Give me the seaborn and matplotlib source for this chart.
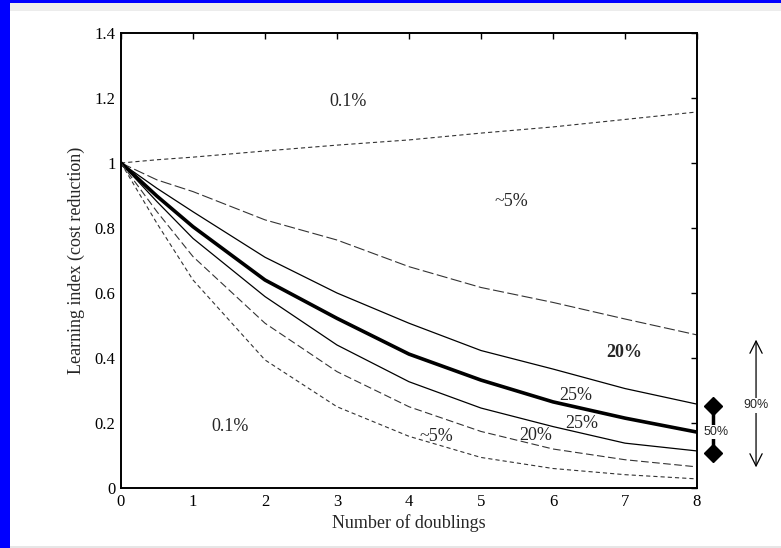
import numpy as np
import pandas as pd
import seaborn as sns
import matplotlib
matplotlib.use("agg")
import matplotlib.pyplot as plt
from matplotlib.patches import Rectangle

# data (learning index vs number of doublings)
doublings = [0, 0.5, 1, 2, 3, 4, 5, 6, 7, 8]
upper_01 = [1.0, 1.010, 1.018, 1.037, 1.055, 1.071, 1.092, 1.111, 1.134, 1.157]
upper_5 = [1.0, 0.948, 0.912, 0.825, 0.763, 0.681, 0.617, 0.571, 0.520, 0.471]
upper_25 = [1.0, 0.922, 0.850, 0.710, 0.600, 0.507, 0.423, 0.366, 0.306, 0.258]
median = [1.0, 0.898, 0.804, 0.640, 0.522, 0.412, 0.332, 0.265, 0.215, 0.172]
lower_25 = [1.0, 0.881, 0.768, 0.589, 0.440, 0.327, 0.246, 0.189, 0.138, 0.114]
lower_5 = [1.0, 0.850, 0.712, 0.507, 0.358, 0.250, 0.174, 0.120, 0.087, 0.065]
lower_01 = [1.0, 0.814, 0.640, 0.394, 0.250, 0.159, 0.094, 0.060, 0.041, 0.028]

labels = ["0.1%", "~5%", "20%", "25%", "25%", "20%", "~5%", "0.1%"]
label_x = [3.15, 5.42, 6.99, 6.32, 6.40, 5.76, 4.38, 1.51]
label_y = [1.19, 0.883, 0.418, 0.286, 0.197, 0.163, 0.157, 0.188]

band50 = [0.108, 0.252]
band90 = [0.055, 0.465]

sns.set_style("white")
plt.rcParams['font.family'] = ['Liberation Serif', 'DejaVu Serif']
plt.rcParams['font.size'] = 12
plt.rcParams['lines.scale_dashes'] = False

fig = plt.figure(figsize=(7.81, 5.48), dpi=100)
fig.patch.set_facecolor('white')
# frame of the original slide
fig.patches.append(Rectangle((0, 1 - 11 / 548), 1, 11 / 548, transform=fig.transFigure,
                             facecolor='#ececec', edgecolor='none', zorder=0))
fig.patches.append(Rectangle((0, 1 - 3 / 548), 1, 3 / 548, transform=fig.transFigure,
                             facecolor='#0000ff', edgecolor='none', zorder=1))
fig.patches.append(Rectangle((0, 0), 10 / 781, 1, transform=fig.transFigure,
                             facecolor='#0000ff', edgecolor='none', zorder=1))
fig.patches.append(Rectangle((10 / 781, 0), 1, 2 / 548, transform=fig.transFigure,
                             facecolor='#e6e6e6', edgecolor='none', zorder=0))

ax = fig.add_axes([121 / 781, 1 - 488 / 548, 576 / 781, 455 / 548])

curves = [
    (upper_01, '#333333', 0.8, [3, 2.2]),
    (upper_5, '#333333', 0.8, [8, 2.5]),
    (upper_25, 'black', 0.9, None),
    (median, 'black', 2.6, None),
    (lower_25, 'black', 0.9, None),
    (lower_5, '#333333', 0.8, [5.5, 2.5]),
    (lower_01, '#333333', 0.8, [3, 2.2]),
]
for vals, c, lw, dash in curves:
    sns.lineplot(x=doublings, y=vals, ax=ax, color=c, linewidth=lw)
    if dash is not None:
        ax.lines[-1].set_dashes(dash)

for t, x, y in zip(labels, label_x, label_y):
    w = 'bold' if (t == '20%' and y > 0.3) else 'normal'
    ax.text(x, y, t, ha='center', va='center', fontsize=13, fontweight=w)

# 50% and 90% range markers outside the plot
ax.plot([8.22, 8.22], band50, color='black', lw=2.5, marker='D', markersize=9.5,
        clip_on=False)
ax.text(8.27, 0.172, '50%', ha='center', va='center', fontsize=9,
        family=['Liberation Sans', 'DejaVu Sans'],
        bbox=dict(facecolor='white', edgecolor='none', pad=0.5))
ax.annotate('', xy=(8.82, band90[1]), xytext=(8.82, band90[0]),
            xycoords='data', annotation_clip=False,
            arrowprops=dict(arrowstyle='<->', color='black', lw=0.9,
                            mutation_scale=22))
ax.text(8.82, 0.255, '90%', ha='center', va='center', fontsize=9,
        family=['Liberation Sans', 'DejaVu Sans'],
        bbox=dict(facecolor='white', edgecolor='none', pad=1))

ax.set_xlim(0, 8)
ax.set_ylim(0, 1.4)
ax.set_xticks(range(0, 9))
ax.set_yticks([0, 0.2, 0.4, 0.6, 0.8, 1.0, 1.2, 1.4])
ax.set_yticklabels(['0', '0.2', '0.4', '0.6', '0.8', '1', '1.2', '1.4'])
ax.tick_params(direction='in', length=4, width=1, top=True, right=True,
               labelsize=12, pad=4, colors='black')
for s in ax.spines.values():
    s.set_color('black')
    s.set_linewidth(1.4)
ax.set_xlabel('Number of doublings', fontsize=13, labelpad=3)
ax.set_ylabel('Learning index (cost reduction)', fontsize=13, labelpad=7)

plt.savefig('out.png', dpi=100, facecolor=fig.get_facecolor())
plt.close()
